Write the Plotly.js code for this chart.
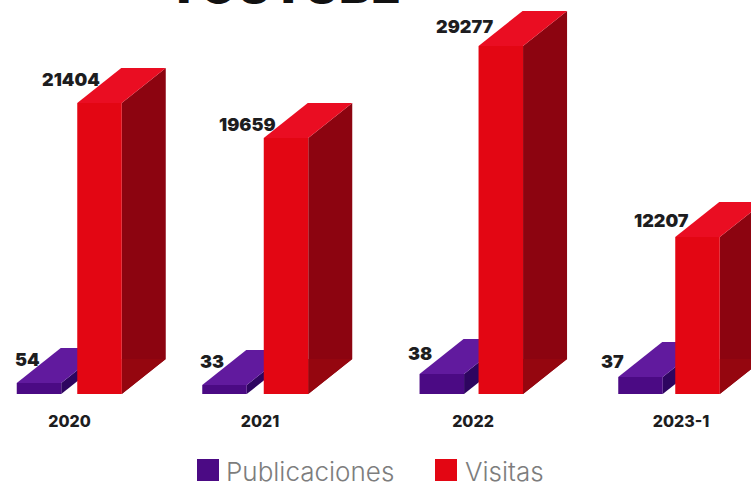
<!DOCTYPE html>
<html><head><meta charset="utf-8">
<script src="https://cdn.plot.ly/plotly-3.0.1.min.js"></script>
<style>html,body{margin:0;padding:0;background:#fff;overflow:hidden}</style>
</head><body><div id="chart" style="width:751px;height:482px"></div>
<script>
// Data
const categories = ['2020', '2021', '2022', '2023-1'];
const publicacionesLabels = [54, 33, 38, 37];
const visitasLabels = [21404, 19659, 29277, 12207];
// The reference's bars are not proportional to their labels: drawn heights, in axis units
const publicacionesDrawn = [11, 9, 20, 17];
const visitasDrawn = [291, 256, 348, 157];

// Horizontal layout of the groups (axis units = px)
const tickX = [69.5, 260, 473, 681];
const pubX = [39, 224.5, 441.8, 640.5];
const visX = [99.5, 286, 500.8, 697.5];
const barW = 44.5, depthX = 44, depthY = 35;
const W = 751, H = 482, baseline = 394;
const C = {pf:'#4b0a84', pt:'#611a9e', ps:'#2e0560',
           vf:'#e30613', vt:'#ea0d22', vs:'#8c0410', vs2:'#95060f'};

function poly(pts, color, layer){
  return {type:'path', xref:'x', yref:'y', layer:layer||'below',
    path:'M'+pts.map(p=>p[0]+','+p[1]).join('L')+'Z',
    fillcolor:color, line:{width:0}};
}
function faces(cx, h, top, side){
  const l=cx-barW/2, r=cx+barW/2;
  return [
    poly([[r,0],[r+depthX,depthY],[r+depthX,h+depthY],[r,h]], side),
    poly([[l,h],[r,h],[r+depthX,h+depthY],[l+depthX,h+depthY]], top)
  ];
}
const shapes = [];
categories.forEach((c,i)=>{
  shapes.push(...faces(pubX[i], publicacionesDrawn[i], C.pt, C.ps));
  shapes.push(...faces(visX[i], visitasDrawn[i], C.vt, C.vs));
  const r=visX[i]+barW/2;
  shapes.push(poly([[r,0],[r+depthX,depthY],[r,depthY]], C.vs2));
});
// legend swatches
[[197,C.pf],[435,C.vf]].forEach(([x,col])=>shapes.push({type:'rect',xref:'x',yref:'paper',
  x0:x,x1:x+22,y0:-(481-baseline)/baseline,y1:-(459-baseline)/baseline,fillcolor:col,line:{width:0}}));

const heavy = {family:'Inter, Roboto, sans-serif', size:18, color:'#1d1d1f', weight:900};
const pubLabelPos = [[27,35],[212,33],[420,41],[612,33]];
const visLabelPos = [[71,315],[247,270],[464,368],[661,174]];
const ann = [];
const label=(txt,p)=>ann.push({x:p[0],y:p[1],xref:'x',yref:'y',text:String(txt),showarrow:false,font:heavy});
publicacionesLabels.forEach((v,i)=>label(v,pubLabelPos[i]));
visitasLabels.forEach((v,i)=>label(v,visLabelPos[i]));
const legFont={family:'Inter, Roboto, sans-serif',size:26,color:'#7d7d7d',weight:300};
ann.push({x:224,y:-(471-baseline)/baseline,xref:'x',yref:'paper',xanchor:'left',yanchor:'middle',text:'Publicaciones',showarrow:false,font:legFont});
ann.push({x:463,y:-(471-baseline)/baseline,xref:'x',yref:'paper',xanchor:'left',yanchor:'middle',text:'Visitas',showarrow:false,font:legFont});
ann.push({x:282.5,y:1-17/baseline,xref:'x',yref:'paper',xanchor:'center',yanchor:'bottom',text:'YOUTUBE',showarrow:false,
  font:{family:'Inter, Roboto, sans-serif',size:48,color:'#111',weight:900}});

const traces=[
 {type:'bar',name:'Publicaciones',x:pubX,y:publicacionesDrawn,width:barW,marker:{color:C.pf,line:{width:0}},customdata:publicacionesLabels,hovertemplate:'%{customdata}<extra>Publicaciones</extra>'},
 {type:'bar',name:'Visitas',x:visX,y:visitasDrawn,width:barW,marker:{color:C.vf,line:{width:0}},customdata:visitasLabels,hovertemplate:'%{customdata}<extra>Visitas</extra>'}
];
Plotly.newPlot('chart',traces,{
  width:W,height:H,margin:{l:0,r:0,t:0,b:H-baseline,pad:0},
  paper_bgcolor:'#fff',plot_bgcolor:'#fff',showlegend:false,barmode:'overlay',
  xaxis:{range:[0,W],tickmode:'array',tickvals:tickX,ticktext:categories,showgrid:false,zeroline:false,showline:false,
    ticks:'outside',ticklen:13,tickcolor:'rgba(0,0,0,0)',tickfont:{family:'Inter, Roboto, sans-serif',size:16,color:'#1d1d1f',weight:800}},
  yaxis:{range:[0,baseline],visible:false,fixedrange:true},
  shapes:shapes,annotations:ann
},{displayModeBar:false,staticPlot:true});
</script></body></html>
